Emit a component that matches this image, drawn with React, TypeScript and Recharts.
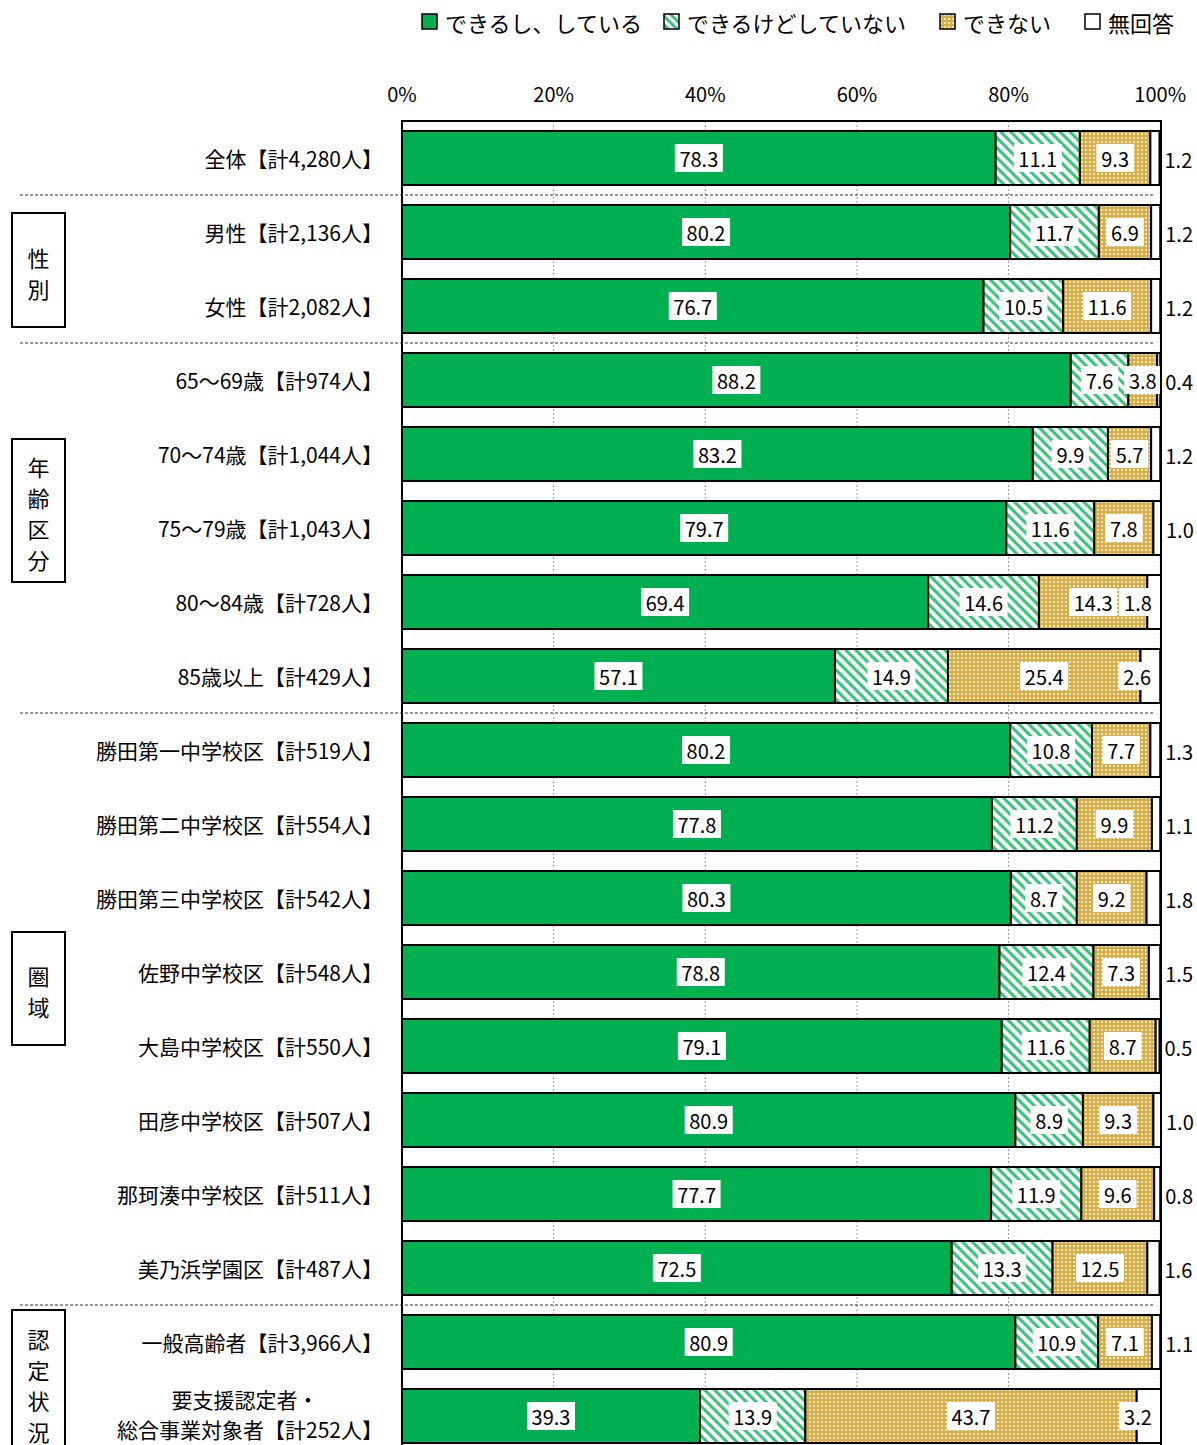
import React from "react";
import { BarChart, Bar, XAxis, YAxis, CartesianGrid, LabelList } from "recharts";

const categories = [
  "全体【計4,280人】",
  "男性【計2,136人】",
  "女性【計2,082人】",
  "65～69歳【計974人】",
  "70～74歳【計1,044人】",
  "75～79歳【計1,043人】",
  "80～84歳【計728人】",
  "85歳以上【計429人】",
  "勝田第一中学校区【計519人】",
  "勝田第二中学校区【計554人】",
  "勝田第三中学校区【計542人】",
  "佐野中学校区【計548人】",
  "大島中学校区【計550人】",
  "田彦中学校区【計507人】",
  "那珂湊中学校区【計511人】",
  "美乃浜学園区【計487人】",
  "一般高齢者【計3,966人】",
  "要支援認定者・\n総合事業対象者【計252人】",
];

const doing = [78.3, 80.2, 76.7, 88.2, 83.2, 79.7, 69.4, 57.1, 80.2, 77.8, 80.3, 78.8, 79.1, 80.9, 77.7, 72.5, 80.9, 39.3];
const canButNot = [11.1, 11.7, 10.5, 7.6, 9.9, 11.6, 14.6, 14.9, 10.8, 11.2, 8.7, 12.4, 11.6, 8.9, 11.9, 13.3, 10.9, 13.9];
const cannot = [9.3, 6.9, 11.6, 3.8, 5.7, 7.8, 14.3, 25.4, 7.7, 9.9, 9.2, 7.3, 8.7, 9.3, 9.6, 12.5, 7.1, 43.7];
const noAnswer = [1.2, 1.2, 1.2, 0.4, 1.2, 1.0, 1.8, 2.6, 1.3, 1.1, 1.8, 1.5, 0.5, 1.0, 0.8, 1.6, 1.1, 3.2];

const seriesNames = ["できるし、している", "できるけどしていない", "できない", "無回答"];
const xTicks = [0, 20, 40, 60, 80, 100];

const groups = [
  { label: "性別", top: 213, height: 114 },
  { label: "年齢区分", top: 439, height: 143 },
  { label: "圏域", top: 932, height: 113 },
  { label: "認定状況", top: 1310, height: 144 },
];
const separatorsAfter = [1, 3, 8, 16];
// rows whose 無回答 label sits inside the bar end
const insideNoAnswer = [6, 7, 17];

const data = categories.map((name, i) => ({
  name,
  doing: doing[i],
  canButNot: canButNot[i],
  cannot: cannot[i],
  noAnswer: noAnswer[i],
}));

const FONT = "'Noto Sans CJK JP', 'Noto Sans', sans-serif";
const W = 1197;
const H = 1460;
const VIEW_H = 1445;
const PLOT_LEFT = 402;
const PLOT_RIGHT = 1161;
const PLOT_TOP = 121;
const BAND = 74;
const PLOT_BOTTOM = PLOT_TOP + BAND * categories.length;

const GREEN = "#00B050";
const legendWidths = [242, 276, 145, 110];

const boxedText = (cx: number, cy: number, value: any) => {
  const s = Number(value).toFixed(1);
  const w = s.length * 10.5 + 6;
  return (
    <g>
      <rect x={cx - w / 2} y={cy - 14} width={w} height={28} fill="#fff" />
      <text x={cx} y={cy} textAnchor="middle" dominantBaseline="central" fontSize={20} fontFamily={FONT} fill="#000">
        {s}
      </text>
    </g>
  );
};

const centerLabel = (props: any) => {
  const { x, y, width, height, value } = props;
  return boxedText(Number(x) + Number(width) / 2, Number(y) + Number(height) / 2, value);
};

const noAnswerLabel = (props: any) => {
  const { x, y, width, height, value, index } = props;
  const end = Number(x) + Number(width);
  const cy = Number(y) + Number(height) / 2;
  if (insideNoAnswer.includes(index)) return boxedText(end - 23, cy, value);
  return (
    <text x={end + 5} y={cy + 1} textAnchor="start" dominantBaseline="central" fontSize={20} fontFamily={FONT} fill="#000">
      {Number(value).toFixed(1)}
    </text>
  );
};

const YTick = (props: any) => {
  const { x, y, payload } = props;
  const lines = String(payload.value).split("\n");
  if (lines.length === 1) {
    return (
      <text x={x} y={y} textAnchor="end" dominantBaseline="central" fontSize={21} fontFamily={FONT} fill="#000">
        {lines[0]}
      </text>
    );
  }
  return (
    <g>
      <text x={x - 138} y={y - 17} textAnchor="middle" dominantBaseline="central" fontSize={21} fontFamily={FONT} fill="#000">
        {lines[0]}
      </text>
      <text x={x} y={y + 13} textAnchor="end" dominantBaseline="central" fontSize={21} fontFamily={FONT} fill="#000">
        {lines[1]}
      </text>
    </g>
  );
};

const XTick = (props: any) => {
  const { x, y, payload } = props;
  return (
    <text x={x} y={y} textAnchor="middle" dominantBaseline="central" fontSize={20} fontFamily={FONT} fill="#000">
      {`${payload.value}%`}
    </text>
  );
};

const legendSwatch = (i: number) => {
  const fills = [GREEN, "url(#hatchL)", "url(#dotsL)", "#fff"];
  return (
    <svg width={17} height={17} style={{ marginRight: 7, marginTop: 6, flex: "none" }}>
      <defs>
        <pattern id="hatchL" patternUnits="userSpaceOnUse" width="6" height="6" patternTransform="rotate(45)">
          <rect width="6" height="6" fill="#fff" />
          <rect width="6" height="3" fill="#3CC47C" />
        </pattern>
        <pattern id="dotsL" patternUnits="userSpaceOnUse" width="4" height="4">
          <rect width="4" height="4" fill="#D4AF4C" />
          <rect x="1" y="1" width="2" height="2" fill="#F3E4B4" />
        </pattern>
      </defs>
      <rect x={1} y={1} width={15} height={15} fill={fills[i]} stroke="#000" strokeWidth={1.5} />
    </svg>
  );
};

const Overlay = () => (
  <svg width={W} height={H} style={{ position: "absolute", left: 0, top: 0, pointerEvents: "none" }}>
    <rect x={PLOT_LEFT} y={PLOT_TOP} width={PLOT_RIGHT - PLOT_LEFT} height={PLOT_BOTTOM - PLOT_TOP} fill="none" stroke="#000" strokeWidth={2} />
    {separatorsAfter.map((k) => (
      <line
        key={k}
        x1={20}
        x2={PLOT_RIGHT - 6}
        y1={PLOT_TOP + BAND * k}
        y2={PLOT_TOP + BAND * k}
        stroke="#333"
        strokeWidth={1}
        strokeDasharray="3 2"
      />
    ))}
    {groups.map((g) => {
      const chars = Array.from(g.label);
      const cy = g.top + g.height / 2 + 2;
      return (
        <g key={g.label}>
          <rect x={12} y={g.top} width={53} height={g.height} fill="#fff" stroke="#000" strokeWidth={2} />
          {chars.map((c, j) => (
            <text
              key={j}
              x={38.5}
              y={cy + (j - (chars.length - 1) / 2) * 31}
              textAnchor="middle"
              dominantBaseline="central"
              fontSize={22}
              fontFamily={FONT}
              fill="#000"
            >
              {c}
            </text>
          ))}
        </g>
      );
    })}
  </svg>
);

export default function App() {
  return (
    <div style={{ position: "relative", width: W, height: VIEW_H, overflow: "hidden", background: "#fff", fontFamily: FONT }}>
      <style>{"html,body{margin:0;padding:0;overflow:hidden;}"}</style>
      <div style={{ position: "absolute", left: 421, top: 7, display: "flex", fontSize: 22, lineHeight: "30px", whiteSpace: "nowrap" }}>
        {seriesNames.map((n, i) => (
          <div key={n} style={{ display: "flex", alignItems: "flex-start", width: legendWidths[i] }}>
            {legendSwatch(i)}
            <span>{n}</span>
          </div>
        ))}
      </div>
      <div style={{ position: "absolute", left: 0, top: 0 }}>
        <BarChart
          width={W}
          height={H}
          data={data}
          layout="vertical"
          margin={{ top: PLOT_TOP - 40, right: W - PLOT_RIGHT, bottom: H - PLOT_BOTTOM, left: 0 }}
          barSize={54}
        >
          <defs>
            <pattern id="hatch" patternUnits="userSpaceOnUse" width="7" height="7" patternTransform="rotate(45)">
              <rect width="7" height="7" fill="#fff" />
              <rect width="7" height="3.2" fill="#3CC47C" />
            </pattern>
            <pattern id="dots" patternUnits="userSpaceOnUse" width="4" height="4">
              <rect width="4" height="4" fill="#D4AF4C" />
              <rect x="1" y="1" width="2" height="2" fill="#F3E4B4" />
            </pattern>
          </defs>
          <CartesianGrid horizontal={false} stroke="#999" strokeDasharray="2 2" />
          <XAxis
            type="number"
            orientation="top"
            domain={[0, 100]}
            ticks={xTicks}
            height={40}
            axisLine={false}
            tickLine={false}
            tickSize={0}
            tickMargin={28}
            tick={<XTick />}
            interval={0}
          />
          <YAxis
            type="category"
            dataKey="name"
            width={PLOT_LEFT}
            axisLine={false}
            tickLine={false}
            tickSize={0}
            tickMargin={19}
            tick={<YTick />}
            interval={0}
          />
          <Bar dataKey="doing" stackId="a" fill={GREEN} stroke="#000" strokeWidth={2} isAnimationActive={false}>
            <LabelList dataKey="doing" content={centerLabel} />
          </Bar>
          <Bar dataKey="canButNot" stackId="a" fill="url(#hatch)" stroke="#000" strokeWidth={2} isAnimationActive={false}>
            <LabelList dataKey="canButNot" content={centerLabel} />
          </Bar>
          <Bar dataKey="cannot" stackId="a" fill="url(#dots)" stroke="#000" strokeWidth={2} isAnimationActive={false}>
            <LabelList dataKey="cannot" content={centerLabel} />
          </Bar>
          <Bar dataKey="noAnswer" stackId="a" fill="#fff" stroke="#000" strokeWidth={2} isAnimationActive={false}>
            <LabelList dataKey="noAnswer" content={noAnswerLabel} />
          </Bar>
        </BarChart>
      </div>
      <Overlay />
    </div>
  );
}
